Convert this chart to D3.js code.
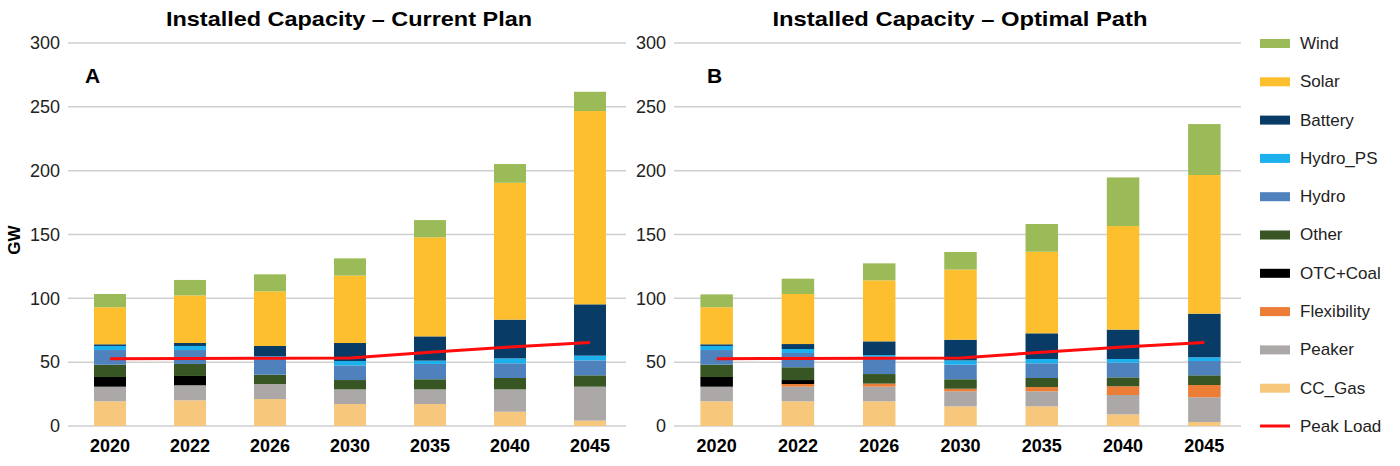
<!DOCTYPE html>
<html>
<head>
<meta charset="utf-8">
<script src="https://cdn.jsdelivr.net/npm/d3@7"></script>
<style>
  body { margin: 0; background: #fff; }
  text { font-family: "Liberation Sans", Arial, sans-serif; }
</style>
</head>
<body>
<div id="canvas"></div>
<script>
// years and stack order (bottom to top)
const years = ["2020", "2022", "2026", "2030", "2035", "2040", "2045"];
const series = ["CC_Gas", "Peaker", "Flexibility", "OTC+Coal", "Other", "Hydro", "Hydro_PS", "Battery", "Solar", "Wind"];
const yTicks = [0, 50, 100, 150, 200, 250, 300];

// A - current plan (GW)
const ccGasA    = [19.3, 20.1, 21.1, 17.2, 17.2, 11.2, 4.2];
const peakerA   = [11.5, 11.8, 11.8, 11.5, 11.5, 17.5, 26.6];
const flexA     = [0, 0, 0, 0, 0, 0, 0];
const otcA      = [7.6, 7.3, 0, 0, 0, 0, 0];
const otherA    = [9.6, 9.4, 7.3, 7.3, 7.9, 8.9, 8.9];
const hydroA    = [11.5, 10.9, 13.6, 11.5, 12.0, 11.5, 11.7];
const hydroPsA  = [3.2, 3.2, 1.0, 3.4, 2.6, 3.9, 3.7];
const batteryA  = [1.3, 2.3, 7.9, 14.1, 19.0, 30.3, 40.2];
const solarA    = [29.0, 37.3, 42.8, 52.8, 77.6, 107.2, 151.4];
const windA     = [10.4, 12.1, 13.3, 13.5, 13.5, 14.7, 15.1];

// B - optimal path (GW)
const ccGasB    = [19.3, 19.3, 19.3, 15.4, 15.4, 9.1, 3.1];
const peakerB   = [11.5, 11.5, 11.5, 11.8, 11.8, 15.2, 19.4];
const flexB     = [0, 2.1, 2.4, 2.0, 3.3, 6.8, 9.6];
const otcB      = [7.6, 3.1, 0, 0, 0, 0, 0];
const otherB    = [9.6, 10.0, 7.5, 7.4, 7.1, 7.0, 7.6];
const hydroB    = [11.5, 11.2, 13.9, 11.4, 11.5, 11.5, 11.2];
const hydroPsB  = [3.2, 3.1, 1.0, 3.4, 3.4, 2.9, 2.9];
const batteryB  = [1.3, 3.9, 10.7, 16.2, 20.1, 23.0, 34.2];
const solarB    = [29.0, 39.2, 47.8, 54.9, 63.9, 81.1, 108.6];
const windB     = [10.1, 12.0, 13.3, 13.8, 21.7, 38.1, 39.9];

const peakLoad  = [52.7, 52.9, 53.1, 53.3, 57.7, 61.9, 65.5];

const colors = {
  "CC_Gas": "#f7c77c", "Peaker": "#aba8a7", "Flexibility": "#ec7d37", "OTC+Coal": "#000000",
  "Other": "#375623", "Hydro": "#4f81bd", "Hydro_PS": "#1cb1ec", "Battery": "#083c66",
  "Solar": "#fdbf2d", "Wind": "#9bbb59"
};

function rows(cols) {
  return years.map((yr, i) => {
    const r = { year: yr };
    series.forEach((s, j) => r[s] = cols[j][i]);
    return r;
  });
}
const dataA = rows([ccGasA, peakerA, flexA, otcA, otherA, hydroA, hydroPsA, batteryA, solarA, windA]);
const dataB = rows([ccGasB, peakerB, flexB, otcB, otherB, hydroB, hydroPsB, batteryB, solarB, windB]);

const width = 1400, height = 466;
const svg = d3.select("#canvas").append("svg")
  .attr("width", width).attr("height", height);

const y = d3.scaleLinear().domain([0, 300]).range([426, 43]);
const stack = d3.stack().keys(series);

function panel(data, x0, x1, title, titleX, titleW, letter, letterX) {
  const x = d3.scaleBand().domain(years).range([x0, x1])
    .paddingInner(0.6).paddingOuter(0.3);
  const g = svg.append("g");

  // grid
  g.selectAll("line.grid").data(yTicks).enter().append("line")
    .attr("x1", x0 - 2).attr("x2", x1 - 4)
    .attr("y1", d => y(d)).attr("y2", d => y(d))
    .attr("stroke", "#cfcfcf").attr("stroke-width", 1.5);

  g.selectAll("text.ytick").data(yTicks).enter().append("text")
    .attr("x", x0 - 10).attr("y", d => y(d)).attr("dy", "0.35em")
    .attr("text-anchor", "end").attr("font-size", 18).attr("fill", "#222")
    .text(d => d);

  const layers = g.selectAll("g.layer").data(stack(data)).enter().append("g")
    .attr("fill", d => colors[d.key]);
  layers.selectAll("rect").data(d => d).enter().append("rect")
    .attr("x", d => x(d.data.year))
    .attr("width", x.bandwidth())
    .attr("y", d => y(d[1]))
    .attr("height", d => y(d[0]) - y(d[1]));

  const line = d3.line()
    .x((d, i) => x(years[i]) + x.bandwidth() / 2)
    .y(d => y(d));
  g.append("path").datum(peakLoad)
    .attr("d", line).attr("fill", "none")
    .attr("stroke", "#ff0d0d").attr("stroke-width", 3);

  g.selectAll("text.xtick").data(years).enter().append("text")
    .attr("x", d => x(d) + x.bandwidth() / 2).attr("y", 452)
    .attr("text-anchor", "middle").attr("font-size", 18).attr("font-weight", "bold")
    .text(d => d);

  g.append("text").attr("x", titleX).attr("y", 26)
    .attr("text-anchor", "middle").attr("font-size", 21).attr("font-weight", "bold")
    .attr("textLength", titleW).attr("lengthAdjust", "spacingAndGlyphs")
    .text(title);

  g.append("text").attr("x", letterX).attr("y", 83)
    .attr("font-size", 21).attr("font-weight", "bold")
    .text(letter);
}

panel(dataA, 70, 630, "Installed Capacity \u2013 Current Plan", 349, 366, "A", 85);
panel(dataB, 676, 1245, "Installed Capacity \u2013 Optimal Path", 960, 375, "B", 707);

svg.append("text")
  .attr("transform", "translate(20,240) rotate(-90)")
  .attr("text-anchor", "middle").attr("font-size", 17).attr("font-weight", "bold")
  .text("GW");

// legend
const legendItems = series.slice().reverse();
const leg = svg.append("g");
legendItems.forEach((s, i) => {
  const ly = 43 + i * 38.3;
  leg.append("rect").attr("x", 1260).attr("y", ly - 4).attr("width", 30).attr("height", 9)
    .attr("fill", colors[s]);
  leg.append("text").attr("x", 1300).attr("y", ly).attr("dy", "0.35em")
    .attr("font-size", 17).attr("fill", "#222").text(s);
});
const ply = 43 + 10 * 38.3;
leg.append("line").attr("x1", 1260).attr("x2", 1290).attr("y1", ply).attr("y2", ply)
  .attr("stroke", "#ff0d0d").attr("stroke-width", 3);
leg.append("text").attr("x", 1300).attr("y", ply).attr("dy", "0.35em")
  .attr("font-size", 17).attr("fill", "#222").text("Peak Load");
</script>
</body>
</html>
